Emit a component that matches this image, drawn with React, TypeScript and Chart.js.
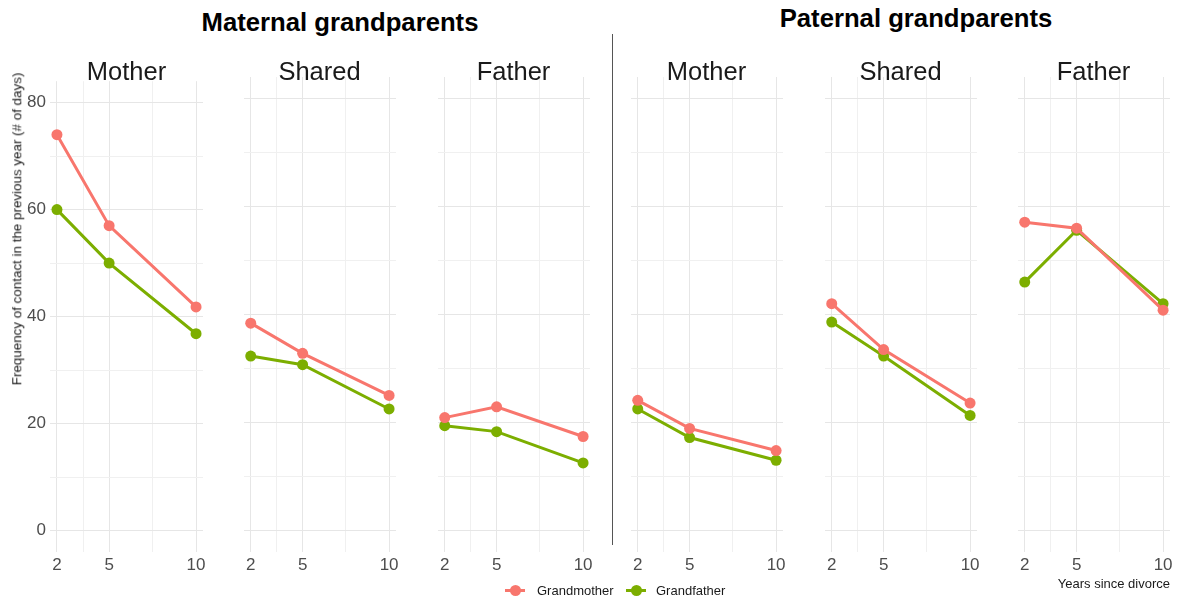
import React, { useEffect, useRef } from "react";
import { Chart, registerables } from "chart.js";

Chart.register(...registerables);

// ---------- data ----------
const yearsSinceDivorce = [2, 5, 10];
const xGridValues = [2, 3.5, 5, 7.5, 10];
const yGridValues = [0, 10, 20, 30, 40, 50, 60, 70, 80];
const groupTitles = ["Maternal grandparents", "Paternal grandparents"];
const panelNames = ["Mother", "Shared", "Father", "Mother", "Shared", "Father"];
const seriesNames = ["Grandmother", "Grandfather"];

const gmMaternalMother = [74.0, 57.0, 41.8];
const gfMaternalMother = [60.0, 50.0, 36.8];
const gmMaternalShared = [38.4, 32.8, 25.0];
const gfMaternalShared = [32.3, 30.7, 22.5];
const gmMaternalFather = [20.9, 22.9, 17.4];
const gfMaternalFather = [19.4, 18.3, 12.5];
const gmPaternalMother = [24.1, 18.9, 14.8];
const gfPaternalMother = [22.5, 17.2, 13.0];
const gmPaternalShared = [42.0, 33.5, 23.6];
const gfPaternalShared = [38.6, 32.3, 21.3];
const gmPaternalFather = [57.1, 56.0, 40.8];
const gfPaternalFather = [46.0, 55.6, 42.0];

const grandmotherByPanel = [
  gmMaternalMother, gmMaternalShared, gmMaternalFather,
  gmPaternalMother, gmPaternalShared, gmPaternalFather,
];
const grandfatherByPanel = [
  gfMaternalMother, gfMaternalShared, gfMaternalFather,
  gfPaternalMother, gfPaternalShared, gfPaternalFather,
];

// ---------- style / layout ----------
const FONT = "'Liberation Sans', Arial, Helvetica, sans-serif";
const GM_COLOR = "#F8766D";
const GF_COLOR = "#7CAE00";
const PANEL_W = 153;
const PANEL_STEP = 193.4;
const FIRST_LEFT = 50;
const AREA_TOP = 77;
const AREA_BOTTOM = 552;
const CANVAS_TOP = 67;
const PAGE_H = 599;
const RIGHT_PAD = 12;

function panelLeft(i: number) {
  return Math.round(FIRST_LEFT + i * PANEL_STEP);
}

function Panel({ index }: { index: number }) {
  const ref = useRef<HTMLCanvasElement | null>(null);
  const yAxisW = index === 0 ? FIRST_LEFT : 0;
  const cLeft = index === 0 ? 0 : panelLeft(index);
  const cWidth = yAxisW + PANEL_W + RIGHT_PAD;
  const cHeight = PAGE_H - CANVAS_TOP;

  useEffect(() => {
    if (!ref.current) return;
    const gm = grandmotherByPanel[index];
    const gf = grandfatherByPanel[index];
    const dims = {
      padTop: AREA_TOP - CANVAS_TOP,
      padRight: RIGHT_PAD,
      xAxisH: PAGE_H - AREA_BOTTOM,
      yAxisW: yAxisW,
    };
    const mk = (label: string, vals: number[], color: string) => ({
      label,
      data: yearsSinceDivorce.map((x, j) => ({ x, y: vals[j] })),
      borderColor: color,
      backgroundColor: color,
      borderWidth: 3,
      pointRadius: 5.5,
      pointBorderWidth: 0,
      pointHoverRadius: 5.5,
      tension: 0,
      clip: false as any,
    });
    const chart: any = new Chart(ref.current, {
      type: "line",
      data: {
        datasets: [
          mk(seriesNames[0], gm, GM_COLOR),
          mk(seriesNames[1], gf, GF_COLOR),
        ],
      },
      options: {
        animation: false,
        responsive: false,
        maintainAspectRatio: false,
        events: [],
        layout: {
          autoPadding: false,
          padding: { top: dims.padTop, right: dims.padRight, left: 0, bottom: 0 },
        },
        plugins: { legend: { display: false }, tooltip: { enabled: false }, title: { display: false } },
        scales: {
          x: {
            type: "linear",
            min: 1.6,
            max: 10.4,
            afterBuildTicks: (axis: any) => {
              axis.ticks = xGridValues.map((v) => ({ value: v }));
            },
            afterFit: (axis: any) => {
              axis.height = dims.xAxisH;
            },
            ticks: {
              autoSkip: false,
              maxRotation: 0,
              padding: 3,
              color: "#4D4D4D",
              font: { family: FONT, size: 17 },
              callback: (v: any) => (yearsSinceDivorce.includes(Number(v)) ? String(v) : ""),
            },
            grid: {
              drawTicks: false,
              color: (ctx: any) =>
                yearsSinceDivorce.includes(ctx.tick?.value) ? "#E6E6E6" : "#F0F0F0",
              lineWidth: 1,
            },
            border: { display: false },
          },
          y: {
            type: "linear",
            min: -4,
            max: 84,
            afterBuildTicks: (axis: any) => {
              axis.ticks = yGridValues.map((v) => ({ value: v }));
            },
            afterFit: (axis: any) => {
              axis.width = dims.yAxisW;
            },
            ticks: {
              display: index === 0,
              autoSkip: false,
              padding: 4,
              color: "#4D4D4D",
              font: { family: FONT, size: 17 },
              callback: (v: any) => (Number(v) % 20 === 0 ? String(v) : ""),
            },
            grid: {
              drawTicks: false,
              color: (ctx: any) => (ctx.tick?.value % 20 === 0 ? "#E6E6E6" : "#F0F0F0"),
              lineWidth: 1,
            },
            border: { display: false },
          },
        },
      },
    });

    // make the plot area land exactly on the facet panel
    const targetTop = AREA_TOP - CANVAS_TOP;
    const targetBottom = AREA_BOTTOM - CANVAS_TOP;
    const targetLeft = yAxisW;
    const targetRight = yAxisW + PANEL_W;
    for (let k = 0; k < 3; k++) {
      const a = chart.chartArea;
      const dTop = targetTop - a.top;
      const dBottom = a.bottom - targetBottom;
      const dLeft = targetLeft - a.left;
      const dRight = a.right - targetRight;
      if (Math.abs(dTop) < 0.01 && Math.abs(dBottom) < 0.01 && Math.abs(dLeft) < 0.01 && Math.abs(dRight) < 0.01) break;
      dims.padTop += dTop;
      dims.xAxisH += dBottom;
      dims.yAxisW += dLeft;
      dims.padRight += dRight;
      chart.options.layout.padding = { top: dims.padTop, right: dims.padRight, left: 0, bottom: 0 };
      chart.update("none");
    }
    return () => chart.destroy();
  }, [index]);

  return (
    <canvas
      ref={ref}
      width={cWidth}
      height={cHeight}
      style={{ position: "absolute", left: cLeft, top: CANVAS_TOP, width: cWidth, height: cHeight }}
    />
  );
}

const textBase: React.CSSProperties = {
  position: "absolute",
  fontFamily: FONT,
  lineHeight: 1,
  whiteSpace: "nowrap",
  transform: "translate(-50%, -50%)",
};

export default function App() {
  useEffect(() => {
    document.body.style.margin = "0";
  }, []);

  return (
    <div
      style={{
        position: "fixed",
        left: 0,
        top: 0,
        width: 1178,
        height: 599,
        background: "#FFFFFF",
        overflow: "hidden",
      }}
    >
      {panelNames.map((_, i) => (
        <Panel key={i} index={i} />
      ))}

      {/* group titles */}
      <div style={{ ...textBase, left: 340, top: 23, fontSize: 25.7, fontWeight: 700, color: "#000" }}>
        {groupTitles[0]}
      </div>
      <div style={{ ...textBase, left: 916, top: 19, fontSize: 25.7, fontWeight: 700, color: "#000" }}>
        {groupTitles[1]}
      </div>

      {/* facet strip labels */}
      {panelNames.map((n, i) => (
        <div
          key={"s" + i}
          style={{ ...textBase, left: panelLeft(i) + PANEL_W / 2, top: 72, fontSize: 25.5, color: "#1A1A1A" }}
        >
          {n}
        </div>
      ))}

      {/* divider */}
      <div style={{ position: "absolute", left: 612, top: 34, width: 1, height: 511, background: "#555" }} />

      {/* y title */}
      <div
        style={{
          ...textBase,
          left: 17,
          top: 229,
          fontSize: 13.4,
          color: "#1A1A1A",
          transform: "translate(-50%, -50%) rotate(-90deg)",
        }}
      >
        Frequency of contact in the previous year (# of days)
      </div>

      {/* x title */}
      <div
        style={{
          position: "absolute",
          right: 1178 - 1170,
          top: 583,
          transform: "translateY(-50%)",
          fontFamily: FONT,
          fontSize: 13,
          lineHeight: 1,
          color: "#1A1A1A",
          whiteSpace: "nowrap",
        }}
      >
        Years since divorce
      </div>

      {/* legend */}
      {[
        { name: seriesNames[0], color: GM_COLOR, cx: 515, tx: 537 },
        { name: seriesNames[1], color: GF_COLOR, cx: 636, tx: 656 },
      ].map((l) => (
        <React.Fragment key={l.name}>
          <div style={{ position: "absolute", left: l.cx - 10, top: 589, width: 20, height: 3, background: l.color }} />
          <div
            style={{
              position: "absolute",
              left: l.cx - 5.5,
              top: 590.5 - 5.5,
              width: 11,
              height: 11,
              borderRadius: "50%",
              background: l.color,
            }}
          />
          <div
            style={{
              position: "absolute",
              left: l.tx,
              top: 590,
              transform: "translateY(-50%)",
              fontFamily: FONT,
              fontSize: 13,
              lineHeight: 1,
              color: "#1A1A1A",
              whiteSpace: "nowrap",
            }}
          >
            {l.name}
          </div>
        </React.Fragment>
      ))}
    </div>
  );
}
